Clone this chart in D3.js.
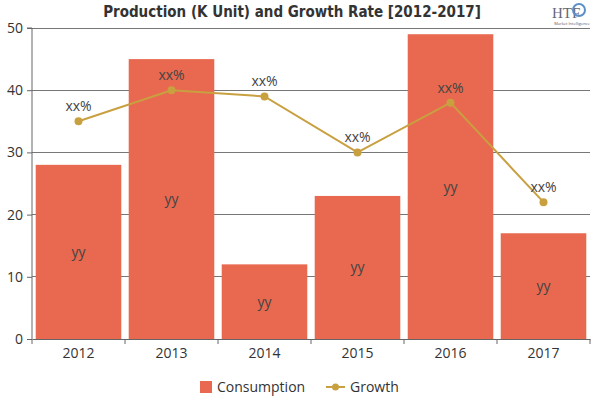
<!DOCTYPE html>
<html><head><meta charset="utf-8">
<script src="https://cdn.jsdelivr.net/npm/d3@7"></script>
<style>body{margin:0;background:#fff}</style>
</head><body><svg id="c" width="600" height="400"></svg>
<script>
const years = ["2012","2013","2014","2015","2016","2017"];
const consumption = [28, 45, 12, 23, 49, 17];
const growth = [35, 40, 39, 30, 38, 22];
const yTicks = [0, 10, 20, 30, 40, 50];
const barLabel = "yy";
const pointLabel = "xx%";

const svg = d3.select("#c");
const m = {l: 32, r: 10, t: 28, b: 61};
const W = 600, H = 400;
const x = d3.scaleBand().domain(years).range([m.l, W - m.r]).paddingInner(0.08).paddingOuter(0.04);
const xb = d3.scaleBand().domain(years).range([m.l, W - m.r]);
const y = d3.scaleLinear().domain([0, 50]).range([H - m.b, m.t]);
const font = "'Open Sans', 'Noto Sans', sans-serif";

// gridlines
svg.append("g").selectAll("line").data(yTicks.filter(d => d > 0)).join("line")
  .attr("x1", m.l).attr("x2", W - m.r).attr("y1", d => y(d)).attr("y2", d => y(d))
  .attr("stroke", "#777").attr("stroke-width", 1).attr("shape-rendering", "crispEdges");

// bars
svg.append("g").selectAll("rect").data(years).join("rect")
  .attr("x", d => x(d)).attr("width", x.bandwidth())
  .attr("y", (d, i) => y(consumption[i])).attr("height", (d, i) => y(0) - y(consumption[i]))
  .attr("fill", "#E8694F");

svg.append("g").selectAll("text").data(years).join("text")
  .attr("x", d => x(d) + x.bandwidth() / 2).attr("y", (d, i) => y(consumption[i] / 2) + 5)
  .attr("text-anchor", "middle").attr("font-family", font).attr("font-size", 14).attr("fill", "#444")
  .text(barLabel);

// y axis
const ya = svg.append("g").attr("transform", `translate(${m.l},0)`)
  .call(d3.axisLeft(y).tickValues(yTicks).tickSize(5).tickPadding(4));
ya.attr("font-family", null);
ya.selectAll("text").attr("font-family", font).attr("font-size", 14).attr("fill", "#333");
ya.selectAll("line,path").attr("stroke", "#666");
ya.select(".domain").attr("d", `M-5,${y(50)}H0V${y(0)}`);

// x axis
const xa = svg.append("g").attr("transform", `translate(0,${y(0)})`)
  .call(d3.axisBottom(xb).tickSize(0).tickPadding(9));
xa.attr("font-family", null);
xa.select(".domain").attr("stroke", "#666");
xa.selectAll("text").attr("font-family", font).attr("font-size", 14).attr("fill", "#333");
svg.append("g").selectAll("line").data(years.concat(["end"])).join("line")
  .attr("x1", (d, i) => i < years.length ? xb(d) : W - m.r)
  .attr("x2", (d, i) => i < years.length ? xb(d) : W - m.r)
  .attr("y1", y(0)).attr("y2", y(0) + 5).attr("stroke", "#666");

// growth line
const cx = d => xb(d) + xb.bandwidth() / 2;
const line = d3.line().x((d, i) => cx(years[i])).y(d => y(d));
svg.append("path").datum(growth).attr("d", line).attr("fill", "none")
  .attr("stroke", "#C9A040").attr("stroke-width", 2);
svg.append("g").selectAll("circle").data(growth).join("circle")
  .attr("cx", (d, i) => cx(years[i])).attr("cy", d => y(d)).attr("r", 4).attr("fill", "#C9A040");
svg.append("g").selectAll("text").data(growth).join("text")
  .attr("x", (d, i) => cx(years[i])).attr("y", d => y(d) - 10)
  .attr("text-anchor", "middle").attr("font-family", font).attr("font-size", 14).attr("fill", "#444")
  .text(pointLabel);

// title
svg.append("text").attr("x", 292).attr("y", 17).attr("text-anchor", "middle")
  .attr("font-family", "'Liberation Sans Narrow', 'DejaVu Sans Condensed', sans-serif")
  .attr("font-weight", "bold").attr("font-size", 15).attr("fill", "#333")
  .text("Production (K Unit) and Growth Rate [2012-2017]");

// logo
const logo = svg.append("g");
logo.append("text").attr("x", 552).attr("y", 18).attr("font-family", "'Liberation Serif', serif")
  .attr("font-size", 15).attr("fill", "#667").text("HTF");
logo.append("circle").attr("cx", 579).attr("cy", 10).attr("r", 6).attr("fill", "none").attr("stroke", "#5b8fc7").attr("stroke-width", 2);
logo.append("text").attr("x", 572).attr("y", 25).attr("text-anchor", "middle").attr("font-family", font)
  .attr("font-size", 4).attr("fill", "#556").text("Market Intelligence");

// legend
const lg = svg.append("g").attr("font-family", "'Open Sans', Lato, sans-serif").attr("font-size", 14).attr("fill", "#333");
lg.append("rect").attr("x", 200).attr("y", 381).attr("width", 12).attr("height", 12).attr("fill", "#E8694F");
lg.append("text").attr("x", 217).attr("y", 392).text("Consumption");
lg.append("line").attr("x1", 326).attr("x2", 345).attr("y1", 387).attr("y2", 387).attr("stroke", "#C9A040").attr("stroke-width", 2);
lg.append("circle").attr("cx", 335.5).attr("cy", 387).attr("r", 3.5).attr("fill", "#C9A040");
lg.append("text").attr("x", 350).attr("y", 392).text("Growth");
</script></body></html>
